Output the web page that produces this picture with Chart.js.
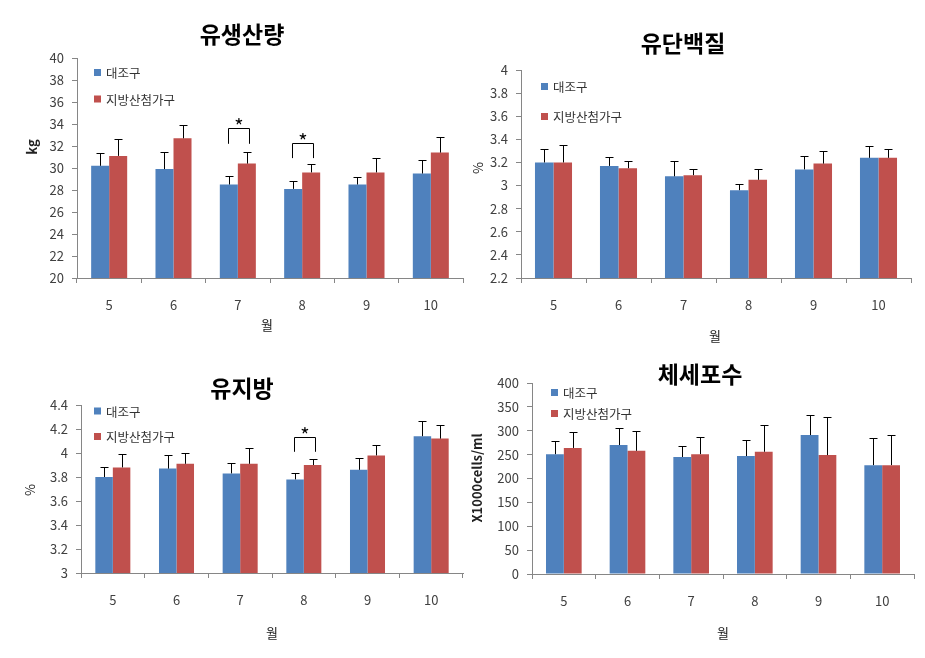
<!DOCTYPE html>
<html><head><meta charset="utf-8">
<script src="https://cdn.jsdelivr.net/npm/chart.js@4"></script>
<style>
html,body{margin:0;padding:0;background:#fff;}
#wrap{position:relative;width:925px;height:658px;overflow:hidden;background:#fff;}
canvas{position:absolute;left:0;top:0;}
</style></head>
<body><div id="wrap">
<canvas id="c1" width="925" height="658"></canvas>
<canvas id="c2" width="925" height="658"></canvas>
<canvas id="c3" width="925" height="658"></canvas>
<canvas id="c4" width="925" height="658"></canvas>
</div>
<script>
// ---- data ----
const months = ['5', '6', '7', '8', '9', '10'];
const seriesNames = ['대조구', '지방산첨가구'];

const milkTicks = [20, 22, 24, 26, 28, 30, 32, 34, 36, 38, 40];
const milkCtrl = [30.2, 29.9, 28.5, 28.1, 28.5, 29.5];
const milkTrt = [31.1, 32.7, 30.4, 29.6, 29.6, 31.4];
const milkCtrlErr = [1.2, 1.6, 0.8, 0.7, 0.7, 1.2];
const milkTrtErr = [1.5, 1.2, 1.1, 0.8, 1.3, 1.4];
const milkSig = ['7', '8'];

const proteinTicks = [2.2, 2.4, 2.6, 2.8, 3, 3.2, 3.4, 3.6, 3.8, 4];
const proteinCtrl = [3.20, 3.17, 3.08, 2.96, 3.14, 3.24];
const proteinTrt = [3.20, 3.15, 3.09, 3.05, 3.19, 3.24];
const proteinCtrlErr = [0.12, 0.08, 0.13, 0.05, 0.12, 0.10];
const proteinTrtErr = [0.15, 0.06, 0.05, 0.09, 0.11, 0.08];

const fatTicks = [3, 3.2, 3.4, 3.6, 3.8, 4, 4.2, 4.4];
const fatCtrl = [3.80, 3.87, 3.83, 3.78, 3.86, 4.14];
const fatTrt = [3.88, 3.91, 3.91, 3.90, 3.98, 4.12];
const fatCtrlErr = [0.08, 0.11, 0.09, 0.05, 0.10, 0.13];
const fatTrtErr = [0.11, 0.09, 0.13, 0.05, 0.09, 0.11];
const fatSig = ['8'];

const sccTicks = [0, 50, 100, 150, 200, 250, 300, 350, 400];
const sccCtrl = [251, 270, 245, 247, 291, 228];
const sccTrt = [264, 258, 251, 256, 249, 228];
const sccCtrlErr = [28, 36, 24, 34, 43, 57];
const sccTrtErr = [33, 42, 35, 55, 79, 64];

// ---- styling ----
const FONT = "'Noto Sans CJK KR', 'Noto Sans', sans-serif";
const BLUE = '#4F81BD', RED = '#C0504D', AX = '#868686', TXT = '#404040';
const W = 925, H = 658, YW = 50, XH = 45;

const decor = {
  id: 'decor',
  afterDatasetsDraw(chart, args, o) {
    const ctx = chart.ctx, ys = chart.scales.y;
    ctx.save();
    ctx.strokeStyle = '#000'; ctx.lineWidth = 1;
    chart.data.datasets.forEach((ds, i) => {
      const meta = chart.getDatasetMeta(i);
      meta.data.forEach((bar, j) => {
        const x = Math.round(bar.x) + 0.5;
        const yt = Math.round(ys.getPixelForValue(ds.data[j] + o.errors[i][j])) + 0.5;
        ctx.beginPath();
        ctx.moveTo(x, bar.y); ctx.lineTo(x, yt);
        ctx.moveTo(x - 4, yt); ctx.lineTo(x + 4, yt);
        ctx.stroke();
      });
    });
    (o.brackets || []).forEach(b => {
      const j = chart.data.labels.indexOf(b.month);
      const x1 = Math.round(chart.getDatasetMeta(0).data[j].x) - 0.5;
      const x2 = Math.round(chart.getDatasetMeta(1).data[j].x) + 2.5;
      const yt = Math.round(ys.getPixelForValue(b.top)) + 0.5;
      const yb = ys.getPixelForValue(b.leg);
      ctx.beginPath();
      ctx.moveTo(x1, yb); ctx.lineTo(x1, yt); ctx.lineTo(x2, yt); ctx.lineTo(x2, yb);
      ctx.stroke();
      ctx.fillStyle = '#000'; ctx.font = '20px ' + FONT;
      ctx.textAlign = 'center'; ctx.textBaseline = 'middle';
      ctx.fillText('*', (x1 + x2) / 2, yt - 2);
    });
    ctx.restore();
  },
  afterDraw(chart, args, o) {
    const ctx = chart.ctx;
    ctx.save();
    ctx.textAlign = 'center'; ctx.textBaseline = 'middle';
    ctx.fillStyle = '#000';
    ctx.font = 'bold 23px ' + FONT;
    ctx.fillText(o.title, o.titlePos[0], o.titlePos[1]);
    ctx.fillStyle = '#222';
    ctx.font = '13px ' + FONT;
    ctx.fillText(o.xTitle, o.xTitlePos[0], o.xTitlePos[1]);
    ctx.save();
    ctx.translate(o.yTitlePos[0], o.yTitlePos[1]);
    ctx.rotate(-Math.PI / 2);
    ctx.font = (o.yTitleBold ? 'bold ' : '') + '13px ' + FONT;
    ctx.fillText(o.yTitle, 0, 0);
    ctx.restore();
    ctx.textAlign = 'left';
    ctx.font = '12.5px ' + FONT;
    chart.data.datasets.forEach((ds, i) => {
      const [lx, ly] = o.legendPos[i];
      ctx.fillStyle = ds.backgroundColor;
      ctx.fillRect(lx, ly - 3.5, 7, 7);
      ctx.fillStyle = '#333';
      ctx.fillText(ds.label, lx + 12, ly + 1);
    });
    ctx.restore();
  }
};

function zero(s) { s.paddingLeft = 0; s.paddingRight = 0; s.paddingTop = 0; s.paddingBottom = 0; }

function makeChart(id, p) {
  const [L, T, R, B] = p.area;
  return new Chart(document.getElementById(id), {
    type: 'bar',
    data: {
      labels: months,
      datasets: [
        { label: seriesNames[0], data: p.ctrl, backgroundColor: BLUE, borderWidth: 0, categoryPercentage: p.cat, barPercentage: 1 },
        { label: seriesNames[1], data: p.trt, backgroundColor: RED, borderWidth: 0, categoryPercentage: p.cat, barPercentage: 1 }
      ]
    },
    plugins: [decor],
    options: {
      responsive: false, animation: false, events: [],
      layout: { padding: { left: L - YW, top: T, right: W - R, bottom: H - B - XH } },
      plugins: {
        legend: { display: false }, title: { display: false }, tooltip: { enabled: false },
        decor: {
          title: p.title, titlePos: p.titlePos,
          xTitle: '월', xTitlePos: p.xTitlePos,
          yTitle: p.yTitle, yTitlePos: p.yTitlePos, yTitleBold: p.yTitleBold,
          legendPos: p.legendPos,
          errors: p.errors,
          brackets: p.brackets
        }
      },
      scales: {
        x: {
          grid: { display: true, drawOnChartArea: false, drawTicks: true, tickLength: 5, color: AX, offset: true },
          border: { color: AX },
          ticks: { font: { family: FONT, size: 13 }, color: TXT, padding: 14, maxRotation: 0 },
          afterFit: s => { s.height = XH; zero(s); }
        },
        y: {
          min: p.ticks[0], max: p.ticks[p.ticks.length - 1],
          grid: { display: true, drawOnChartArea: false, drawTicks: true, tickLength: 5, color: AX },
          border: { color: AX },
          ticks: { font: { family: FONT, size: 13 }, color: TXT, padding: 8, callback: v => String(v) },
          afterBuildTicks: s => { s.ticks = p.ticks.map(v => ({ value: v })); },
          afterFit: s => { s.width = YW; zero(s); }
        }
      }
    }
  });
}

makeChart('c1', {
  area: [77, 58, 463, 278], cat: 0.56,
  ctrl: milkCtrl, trt: milkTrt, errors: [milkCtrlErr, milkTrtErr], ticks: milkTicks,
  title: '유생산량', titlePos: [242, 34],
  xTitlePos: [267, 325], yTitle: 'kg', yTitlePos: [32, 147], yTitleBold: true,
  legendPos: [[94, 72.5], [94, 99]],
  brackets: [
    { month: milkSig[0], top: 33.6, leg: 32.2 },
    { month: milkSig[1], top: 32.25, leg: 30.9 }
  ]
});

makeChart('c2', {
  area: [521, 70, 911, 278], cat: 0.57,
  ctrl: proteinCtrl, trt: proteinTrt, errors: [proteinCtrlErr, proteinTrtErr], ticks: proteinTicks,
  title: '유단백질', titlePos: [683, 43],
  xTitlePos: [715, 336], yTitle: '%', yTitlePos: [478, 168], yTitleBold: false,
  legendPos: [[541, 86.5], [541, 116.5]],
  brackets: []
});

makeChart('c3', {
  area: [81, 405, 463, 573], cat: 0.55,
  ctrl: fatCtrl, trt: fatTrt, errors: [fatCtrlErr, fatTrtErr], ticks: fatTicks,
  title: '유지방', titlePos: [242, 388],
  xTitlePos: [272, 633], yTitle: '%', yTitlePos: [30, 490], yTitleBold: false,
  legendPos: [[94, 411], [94, 436.5]],
  brackets: [{ month: fatSig[0], top: 4.135, leg: 4.01 }]
});

makeChart('c4', {
  area: [532, 383, 914, 574], cat: 0.56,
  ctrl: sccCtrl, trt: sccTrt, errors: [sccCtrlErr, sccTrtErr], ticks: sccTicks,
  title: '체세포수', titlePos: [700, 374],
  xTitlePos: [723, 633], yTitle: 'X1000cells/ml', yTitlePos: [477, 478], yTitleBold: true,
  legendPos: [[551, 392.5], [551, 413.5]],
  brackets: []
});
</script>
</body></html>
